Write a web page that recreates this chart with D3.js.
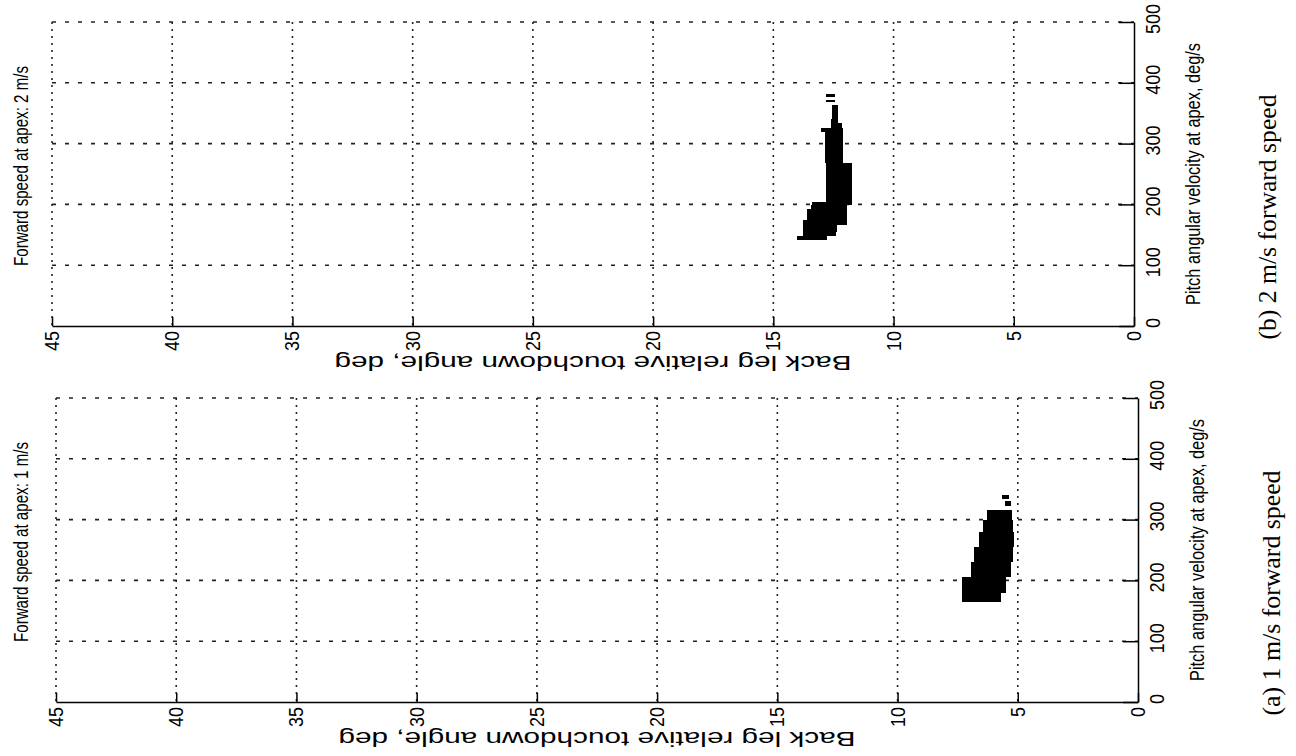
<!DOCTYPE html>
<html>
<head>
<meta charset="utf-8">
<script src="https://cdn.jsdelivr.net/npm/d3@7"></script>
<style>
    body { margin: 0; background: #fff; }
    text { font-family: "Liberation Sans", Arial, sans-serif; fill: #000; }
    text.caption { font-family: "Liberation Serif", "Times New Roman", serif; }
</style>
</head>
<body>
<div id="chart"></div>
<script>
const angleTicks = [0, 5, 10, 15, 20, 25, 30, 35, 40, 45];
const pitchTicks = [0, 100, 200, 300, 400, 500];

const angleLabel = "Back leg relative touchdown angle, deg";
const pitchLabel = "Pitch angular velocity at apex, deg/s";
const panelTitles = ["Forward speed at apex: 2 m/s", "Forward speed at apex: 1 m/s"];
const panelCaptions = ["(b) 2 m/s forward speed", "(a) 1 m/s forward speed"];

// feasible region, one row per pitch band: [pitch low, pitch high, angle min, angle max]
const region2ms = [
    [141, 148, 12.75, 14.02],
    [148, 155, 12.4, 13.77],
    [155, 166, 12.35, 13.77],
    [166, 175, 11.94, 13.77],
    [175, 192, 11.94, 13.6],
    [192, 199, 11.94, 13.45],
    [199, 204, 11.73, 13.39],
    [204, 268, 11.73, 12.81],
    [268, 319, 12.1, 12.85],
    [319, 326, 12.1, 13.0],
    [326, 334, 12.15, 12.6],
    [334, 340, 12.3, 12.6],
    [340, 364, 12.3, 12.55],
    [368, 372, 12.45, 12.8],
    [377, 382, 12.45, 12.8]
];

const region1ms = [
    [164, 180, 5.7, 7.3],
    [180, 205, 5.5, 7.3],
    [205, 230, 5.3, 6.95],
    [230, 255, 5.2, 6.8],
    [255, 280, 5.15, 6.6],
    [280, 300, 5.2, 6.45],
    [300, 316, 5.25, 6.3],
    [322, 330, 5.3, 5.55],
    [334, 340, 5.35, 5.65]
];

var Chart = (() => {

    let svg = {
            width: 1296,
            height: 756
        },
        panels = [
            { rows: region2ms, title: panelTitles[0], caption: panelCaptions[0],
              left: 52, right: 1134, top: 22, bottom: 326 },
            { rows: region1ms, title: panelTitles[1], caption: panelCaptions[1],
              left: 56, right: 1138, top: 398, bottom: 702 }
        ];

    function plotPanel(chart, p) {

        const angle = d3.scaleLinear()
            .domain([0, 45])
            .range([p.right, p.left]);

        const pitch = d3.scaleLinear()
            .domain([0, 500])
            .range([p.bottom, p.top]);

        const g = chart.append("g").attr("class", "panel");

        // dotted grid
        g.append("g").attr("class", "grid v")
            .selectAll("line")
            .data(angleTicks.filter(d => d > 0))
            .join("line")
            .attr("x1", d => angle(d)).attr("x2", d => angle(d))
            .attr("y1", pitch(500)).attr("y2", pitch(0))
            .attr("stroke", "#222")
            .attr("stroke-width", 1.6)
            .attr("stroke-dasharray", "2,5");

        g.append("g").attr("class", "grid h")
            .selectAll("line")
            .data(pitchTicks.filter(d => d > 0))
            .join("line")
            .attr("x1", angle(45)).attr("x2", angle(0))
            .attr("y1", d => pitch(d)).attr("y2", d => pitch(d))
            .attr("stroke", "#222")
            .attr("stroke-width", 1.6)
            .attr("stroke-dasharray", "4,9");

        // feasible region
        g.append("g").attr("class", "marks")
            .selectAll("rect")
            .data(p.rows)
            .join("rect")
            .attr("x", d => angle(d[3]))
            .attr("width", d => angle(d[2]) - angle(d[3]))
            .attr("y", d => pitch(d[1]))
            .attr("height", d => pitch(d[0]) - pitch(d[1]))
            .attr("fill", "#000")
            .attr("shape-rendering", "crispEdges");

        // axes
        const ax = g.append("g")
            .attr("class", "axis x")
            .attr("transform", `translate(0, ${p.bottom})`)
            .call(d3.axisBottom(angle).tickValues(angleTicks)
                .tickSizeInner(-9).tickSizeOuter(0).tickFormat(""));

        const ay = g.append("g")
            .attr("class", "axis y")
            .attr("transform", `translate(${p.right}, 0)`)
            .call(d3.axisRight(pitch).tickValues(pitchTicks)
                .tickSizeInner(-15).tickSizeOuter(0).tickFormat(""));

        [ax, ay].forEach(a => {
            a.selectAll("text").remove();
            a.selectAll("path, line")
                .attr("stroke", "#000")
                .attr("stroke-width", 1.5);
        });

        // tick labels (wider across than along, as in the scanned figure)
        g.append("g").selectAll("text")
            .data(angleTicks)
            .join("text")
            .attr("transform", d => `translate(${angle(d) + 7}, ${p.bottom + 5}) rotate(-90) scale(1, 1.12)`)
            .attr("text-anchor", "end")
            .attr("font-size", 18)
            .text(d => d);

        g.append("g").selectAll("text")
            .data(pitchTicks)
            .join("text")
            .attr("transform", d => `translate(${p.right + 26}, ${pitch(d) - 3}) rotate(-90) scale(1, 1.12)`)
            .attr("text-anchor", "middle")
            .attr("font-size", 18)
            .text(d => d);

        // axis titles
        g.append("text")
            .attr("transform", `translate(${p.right + 66}, ${(p.top + p.bottom) / 2}) rotate(-90) scale(1, 1.15)`)
            .attr("text-anchor", "middle")
            .attr("font-size", 18)
            .attr("textLength", 262)
            .attr("lengthAdjust", "spacingAndGlyphs")
            .text(pitchLabel);

        g.append("text")
            .attr("transform", `translate(${(p.left + p.right) / 2}, ${p.bottom + 30}) rotate(180)`)
            .attr("text-anchor", "middle")
            .attr("font-size", 21)
            .attr("textLength", 517)
            .attr("lengthAdjust", "spacingAndGlyphs")
            .text(angleLabel);

        g.append("text")
            .attr("transform", `translate(28, ${p.top + 144}) rotate(-90) scale(1, 1.15)`)
            .attr("text-anchor", "middle")
            .attr("font-size", 17)
            .attr("textLength", 200)
            .attr("lengthAdjust", "spacingAndGlyphs")
            .text(p.title);

        g.append("text")
            .attr("class", "caption")
            .attr("transform", `translate(${p.right + 142}, ${p.top + 195}) rotate(-90)`)
            .attr("text-anchor", "middle")
            .attr("font-size", 25)
            .attr("textLength", 245)
            .attr("lengthAdjust", "spacingAndGlyphs")
            .text(p.caption);
    }

    function plotData() {

        const chart = d3.select("#chart")
            .append("svg")
            .attr("width", svg.width)
            .attr("height", svg.height);

        chart.append("rect")
            .attr("width", svg.width)
            .attr("height", svg.height)
            .attr("fill", "#fff");

        panels.forEach(p => plotPanel(chart, p));
    }

    return {
        svg,
        plotData
    }

})();

Chart.plotData(); // draw both panels
</script>
</body>
</html>
